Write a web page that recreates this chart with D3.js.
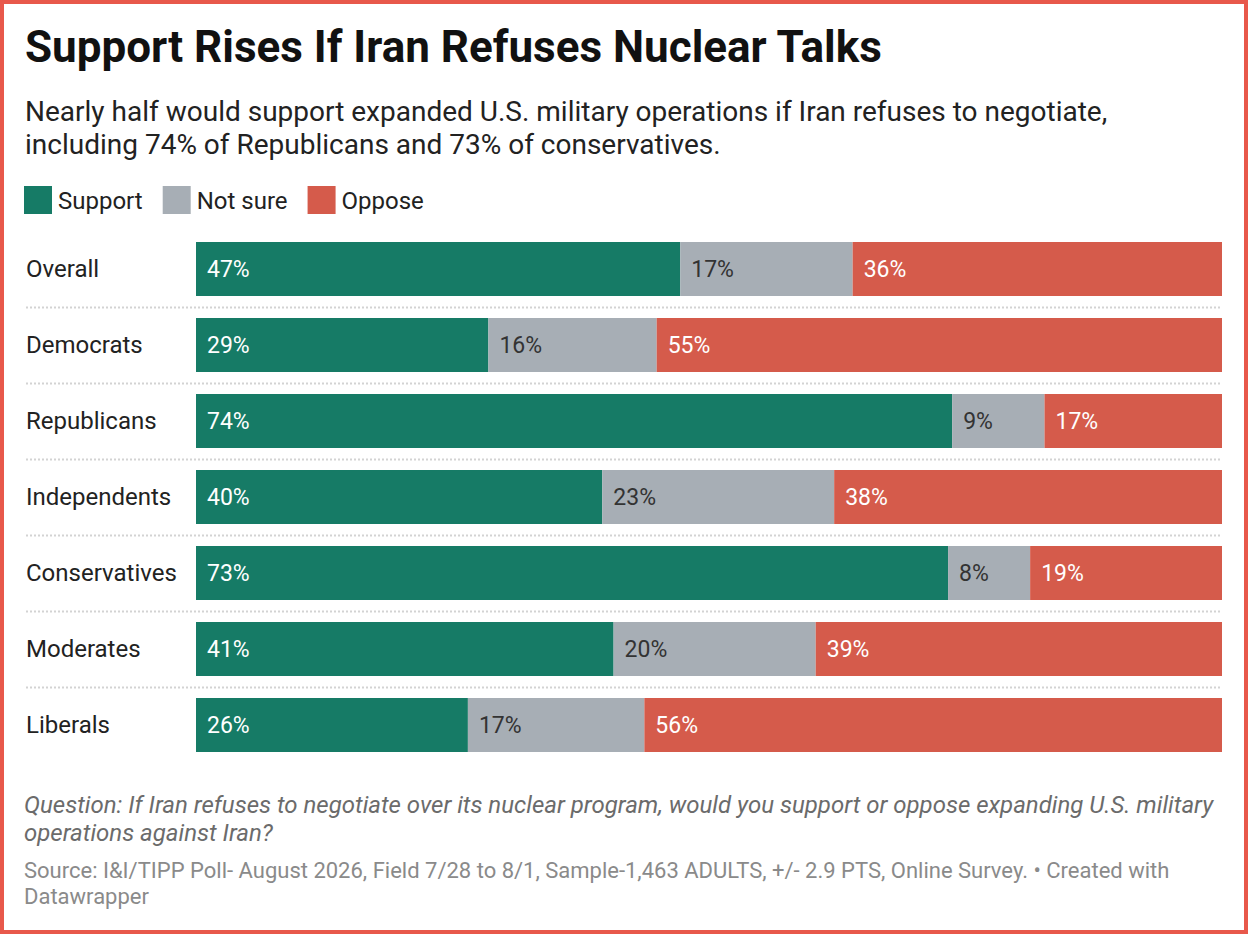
<!DOCTYPE html>
<html><head><meta charset="utf-8">
<script src="https://cdn.jsdelivr.net/npm/d3@7/dist/d3.min.js"></script>
<style>
html,body{margin:0;padding:0;background:#fff;}
svg{display:block;font-family:Roboto,"Noto Sans",sans-serif;}
</style></head>
<body>
<svg id="c" width="1248" height="934"></svg>
<script>
const categories = ["Overall","Democrats","Republicans","Independents","Conservatives","Moderates","Liberals"];
const seriesNames = ["Support","Not sure","Oppose"];
// bar shares
const support = [47.2,28.5,73.7,39.6,73.3,40.7,26.5];
const notSure = [16.8,16.4,9.0,22.6,8.0,19.7,17.2];
const oppose  = [36.0,55.1,17.3,37.8,18.7,39.6,56.3];
// printed labels
const supportLabels = ["47%","29%","74%","40%","73%","41%","26%"];
const notSureLabels = ["17%","16%","9%","23%","8%","20%","17%"];
const opposeLabels  = ["36%","55%","17%","38%","19%","39%","56%"];
const colors = ["#167b66","#a7aeb5","#d55b4b"];
const labelColors = ["#ffffff","#333333","#ffffff"];

const svg = d3.select("#c");
const W = 1248, H = 934;
svg.append("rect").attr("x",2).attr("y",2).attr("width",W-4).attr("height",H-4)
  .attr("fill","#fff").attr("stroke","#e8584b").attr("stroke-width",4);

svg.append("text").attr("x",25).attr("y",62).attr("font-size",44).attr("font-weight",700)
  .attr("fill","#111").text("Support Rises If Iran Refuses Nuclear Talks");
const sub = ["Nearly half would support expanded U.S. military operations if Iran refuses to negotiate,",
  "including 74% of Republicans and 73% of conservatives."];
sub.forEach((s,i)=>svg.append("text").attr("x",25).attr("y",121+i*33).attr("font-size",28)
  .attr("fill","#222").text(s));

// legend
let lx = 24;
seriesNames.forEach((n,i)=>{
  const g = svg.append("g");
  g.append("rect").attr("x",lx).attr("y",186).attr("width",28).attr("height",28).attr("fill",colors[i]);
  const t = g.append("text").attr("x",lx+34).attr("y",208.5).attr("font-size",24).attr("fill","#222").text(n);
  lx += 34 + t.node().getComputedTextLength() + 20;
});

const x0 = 196, x1 = 1222;
const step = 76, bh = 54;
const yPos = d3.scalePoint().domain(categories).range([242, 242+step*(categories.length-1)]);

const rows = categories.map((c,i)=>({cat:c, vals:[support[i],notSure[i],oppose[i]],
  labels:[supportLabels[i],notSureLabels[i],opposeLabels[i]]}));

rows.forEach((r,i)=>{
  const total = d3.sum(r.vals);
  const xs = d3.scaleLinear().domain([0,total]).range([x0,x1]);
  const yy = yPos(r.cat);
  svg.append("text").attr("x",26).attr("y",yy+bh/2+8).attr("font-size",24).attr("fill","#222").text(r.cat);
  let cum = 0;
  r.vals.forEach((v,j)=>{
    const a = xs(cum), b = xs(cum+v);
    svg.append("rect").attr("x",a).attr("y",yy).attr("width",b-a).attr("height",bh).attr("fill",colors[j]);
    svg.append("text").attr("x",a+11).attr("y",yy+bh/2+8).attr("font-size",23)
      .attr("fill",labelColors[j]).text(r.labels[j]);
    cum += v;
  });
  if(i < rows.length-1){
    svg.append("line").attr("x1",26).attr("x2",x1).attr("y1",yy+bh+11.5).attr("y2",yy+bh+11.5)
      .attr("stroke","#d3d3d3").attr("stroke-width",2).attr("stroke-dasharray","2,2");
  }
});

const q = ["Question: If Iran refuses to negotiate over its nuclear program, would you support or oppose expanding U.S. military",
  "operations against Iran?"];
q.forEach((s,i)=>svg.append("text").attr("x",24).attr("y",813+i*28).attr("font-size",24)
  .attr("font-style","italic").attr("fill","#6b6b6b").text(s));
const src = ["Source: I&I/TIPP Poll- August 2026, Field 7/28 to 8/1, Sample-1,463 ADULTS, +/- 2.9 PTS, Online Survey. • Created with",
  "Datawrapper"];
src.forEach((s,i)=>svg.append("text").attr("x",24).attr("y",878+i*26).attr("font-size",22)
  .attr("fill","#8a8a8a").text(s));
</script>
</body></html>
